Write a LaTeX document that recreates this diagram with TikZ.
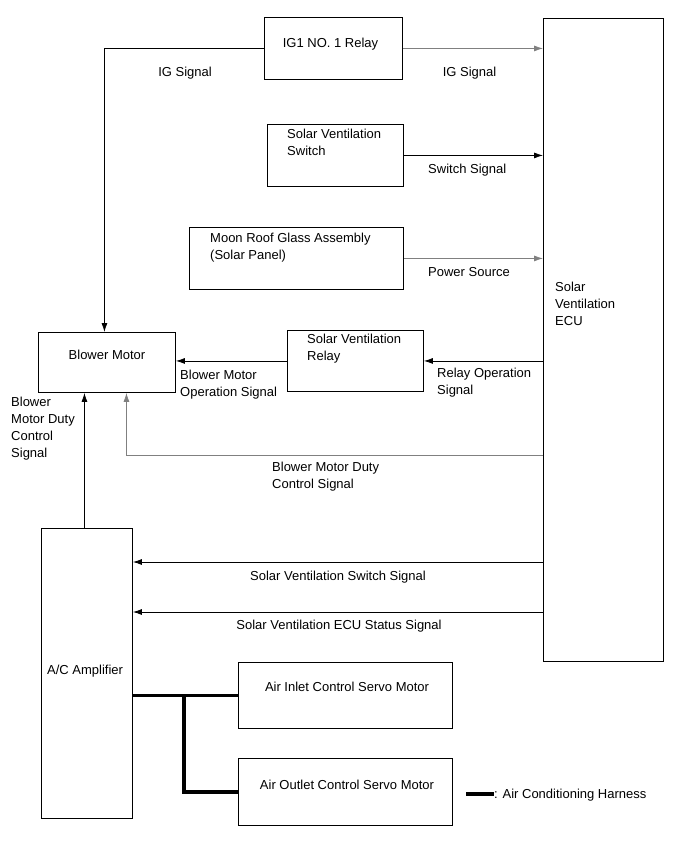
\documentclass[tikz,border=0pt]{standalone}
\usepackage{fontspec}
\setmainfont{Liberation Sans}
\usetikzlibrary{arrows.meta}
\begin{document}
\begin{tikzpicture}[x=1pt,y=-1pt,font=\fontsize{13}{17}\selectfont]
        \tikzstyle{box}=[rectangle,draw=black,line width=0.9pt,anchor=north west,inner sep=0pt]
        \tikzstyle{txt}=[anchor=base west,inner sep=0pt,align=left]
        \tikzstyle{ctxt}=[anchor=base,inner sep=0pt,align=center]
        \tikzstyle{sig}=[line width=0.8pt,-{Latex[length=9pt,width=6pt]}]
        \tikzstyle{faint}=[draw=black!50]
        \tikzstyle{harness}=[line width=3.8pt]

      \useasboundingbox (0,0) rectangle (691,854);

      \begin{scope}
         \node[box,minimum width=138,minimum height=62] (relay)   at (264,17)  {};
         \node[box,minimum width=120,minimum height=643] (ecu)    at (543,18)  {};
         \node[box,minimum width=136,minimum height=62] (swtch)   at (267,124) {};
         \node[box,minimum width=214,minimum height=62] (moon)    at (189,227) {};
         \node[box,minimum width=137,minimum height=60] (blower)  at (38,332)  {};
         \node[box,minimum width=136,minimum height=61] (svrelay) at (287,330) {};
         \node[box,minimum width=91,minimum height=290]  (amp)    at (41,528)  {};
         \node[box,minimum width=214,minimum height=66] (inlet)   at (238,662) {};
         \node[box,minimum width=214,minimum height=67] (outlet)  at (238,758) {};

         \node[ctxt] (relayT)   at (330.5,47.7) {IG1 NO. 1 Relay};
         \node[txt]  (swtchT)   at (287,155.7)  {Solar Ventilation\\Switch};
         \node[txt]  (moonT)    at (210,259.7)  {Moon Roof Glass Assembly\\(Solar Panel)};
         \node[ctxt] (blowerT)  at (107,359.7)  {Blower Motor};
         \node[txt]  (svrelayT) at (307,360.7)  {Solar Ventilation\\Relay};
         \node[txt]  (ecuT)     at (555,325.7)  {Solar\\Ventilation\\ECU};
         \node[txt]  (ampT)     at (47,674.7)   {A/C Amplifier};
         \node[ctxt] (inletT)   at (347,691.7)  {Air Inlet Control Servo Motor};
         \node[ctxt] (outletT)  at (347,789.7)  {Air Outlet Control Servo Motor};

         \node[ctxt] (igL)    at (185,76.4)   {IG Signal};
         \node[ctxt] (igR)    at (469.5,76.4) {IG Signal};
         \node[txt]  (swS)    at (428,173.7)  {Switch Signal};
         \node[txt]  (pwS)    at (428,276.7)  {Power Source};
         \node[txt]  (relS)   at (437,394.7)  {Relay Operation\\Signal};
         \node[txt]  (opS)    at (180,396.5)  {Blower Motor\\Operation Signal};
         \node[txt]  (dutyS)  at (272,488.7)  {Blower Motor Duty\\Control Signal};
         \node[txt]  (ampS)   at (11,457.7)   {Blower\\Motor Duty\\Control\\Signal};
         \node[ctxt] (svswS)  at (338,580.7)  {Solar Ventilation Switch Signal};
         \node[ctxt] (svstS)  at (339,629.7)  {Solar Ventilation ECU Status Signal};
         \node[txt]  (harnT)  at (494,798.7)  {: Air Conditioning Harness};

         \coordinate (duty)  at (543,455);
         \coordinate (svsw)  at (543,562);
         \coordinate (svst)  at (543,612);
         \coordinate (hbr)   at (184,0);
         \coordinate (harnA) at (466,794);

         \draw[sig] (relay.west) -| ([xshift=-2.5pt]blower.north);
         \draw[sig,faint] (relay.east) to (ecu.west |- relay.east);
         \draw[sig] (swtch.east) to (ecu.west |- swtch.east);
         \draw[sig,faint] (moon.east) to (ecu.west |- moon.east);
         \draw[sig] (ecu.west |- svrelay.east) to (svrelay.east);
         \draw[sig] (svrelay.west) to (blower.east |- svrelay.west);
         \draw[sig,faint] (duty) -| ([xshift=19.5pt]blower.south);
         \draw[sig] ([xshift=-2.5pt]amp.north) to ([xshift=-2.5pt]amp.north |- blower.south);
         \draw[sig] (svsw) to (amp.east |- svsw);
         \draw[sig] (svst) to (amp.east |- svst);

         \draw[harness] (amp.east |- inlet.west) to (inlet.west);
         \draw[harness] (hbr |- inlet.west) |- (outlet.west);
         \draw[harness] (harnA) to (harnT.west |- harnA);
      \end{scope}
    \end{tikzpicture}
\end{document}
